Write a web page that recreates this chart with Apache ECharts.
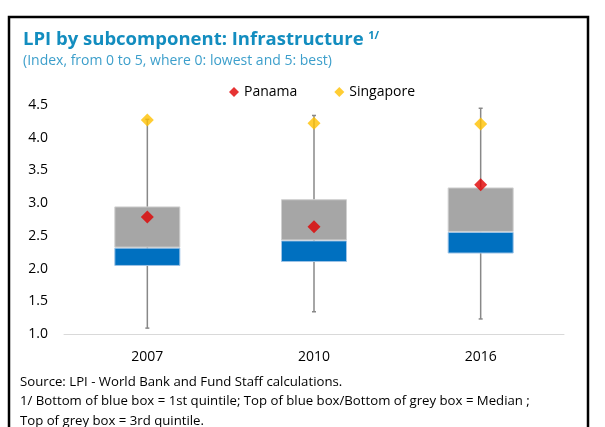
<!DOCTYPE html>
<html lang="en">
<head>
    <meta charset="UTF-8">
    <title>LPI Infrastructure</title>
    <script src="https://cdn.jsdelivr.net/npm/echarts@6/dist/echarts.min.js"></script>
    <style type="text/css">
        *{ margin: 0; padding: 0; }
        #chart{ width: 605px; height: 427px; }
    </style>
</head>
<body>
    <div id="chart"></div>
</body>
<script>
    var years = ['2007', '2010', '2016'];
    var lowWhisker = [1.09, 1.34, 1.23];
    var highWhisker = [4.28, 4.34, 4.45];
    var quintile1 = [2.04, 2.10, 2.23];
    var median = [2.32, 2.43, 2.56];
    var quintile3 = [2.95, 3.06, 3.24];
    var panama = [2.79, 2.64, 3.28];
    var singapore = [4.27, 4.22, 4.21];

    var font = 'Open Sans';
    var myChart = echarts.init(document.getElementById('chart'));

    // stacked pieces of the box: invisible base up to q1, blue to median, grey to q3
    var blueSeg = [], greySeg = [];
    for (var i = 0; i < years.length; i++) {
        blueSeg.push(+(median[i] - quintile1[i]).toFixed(3));
        greySeg.push(+(quintile3[i] - median[i]).toFixed(3));
    }
    var whiskers = [];
    for (var j = 0; j < years.length; j++) {
        whiskers.push([j, lowWhisker[j], highWhisker[j]]);
    }

    var option = {
        animation: false,
        textStyle: { fontFamily: font },
        title: {
            left: 18,
            top: 25,
            text: '{t|LPI by subcomponent: Infrastructure} {s|1/}',
            subtext: '(Index, from 0 to 5, where 0: lowest and 5: best)',
            itemGap: 5,
            textStyle: {
                rich: {
                    t: { fontFamily: font, fontSize: 18.5, fontWeight: 'bold', color: '#138DBF' },
                    s: { fontFamily: font, fontSize: 11, fontWeight: 'bold', color: '#138DBF', verticalAlign: 'top', padding: [0, 0, 8, 0] }
                }
            },
            subtextStyle: { fontFamily: font, fontSize: 14, color: '#3D9FCB' }
        },
        legend: {
            top: 80,
            left: 224,
            itemGap: 37,
            itemWidth: 10,
            itemHeight: 10,
            textStyle: { fontFamily: font, fontSize: 14, color: '#000' },
            data: [
                { name: 'Panama', icon: 'diamond' },
                { name: 'Singapore', icon: 'diamond' }
            ]
        },
        grid: { left: 64, right: 41, top: 105, bottom: 93 },
        xAxis: {
            type: 'category',
            data: years,
            axisLine: { lineStyle: { color: '#D9D9D9' } },
            axisTick: { show: false },
            axisLabel: { color: '#000', fontSize: 14, margin: 16 }
        },
        yAxis: {
            type: 'value',
            min: 1,
            max: 4.5,
            interval: 0.5,
            splitLine: { show: false },
            axisLine: { show: false },
            axisTick: { show: false },
            axisLabel: {
                color: '#000', fontSize: 14, margin: 16,
                formatter: function (v) { return v.toFixed(1); }
            }
        },
        series: [
            {
                name: 'whisker',
                type: 'custom',
                z: 1,
                data: whiskers,
                renderItem: function (params, api) {
                    var lo = api.coord([api.value(0), api.value(1)]);
                    var hi = api.coord([api.value(0), api.value(2)]);
                    var st = { stroke: '#888888', lineWidth: 1.5 };
                    return {
                        type: 'group',
                        children: [
                            { type: 'line', shape: { x1: lo[0], y1: lo[1], x2: hi[0], y2: hi[1] }, style: st },
                            { type: 'line', shape: { x1: lo[0] - 2, y1: lo[1], x2: lo[0] + 2, y2: lo[1] }, style: st },
                            { type: 'line', shape: { x1: hi[0] - 2, y1: hi[1], x2: hi[0] + 2, y2: hi[1] }, style: st }
                        ]
                    };
                }
            },
            {
                name: 'base',
                type: 'bar',
                stack: 'box',
                barWidth: 66,
                z: 2,
                itemStyle: { color: 'transparent' },
                data: quintile1
            },
            {
                name: 'blue',
                type: 'bar',
                stack: 'box',
                z: 2,
                itemStyle: { color: '#0070C0', borderColor: '#9DC3E6', borderWidth: 1 },
                data: blueSeg
            },
            {
                name: 'grey',
                type: 'bar',
                stack: 'box',
                z: 2,
                itemStyle: { color: '#A6A6A6', borderColor: '#D0D0D0', borderWidth: 1 },
                data: greySeg
            },
            {
                name: 'Panama',
                type: 'scatter',
                z: 5,
                symbol: 'diamond',
                symbolSize: 13,
                itemStyle: { color: '#E00000' },
                data: panama
            },
            {
                name: 'Singapore',
                type: 'scatter',
                z: 5,
                symbol: 'diamond',
                symbolSize: 13,
                itemStyle: { color: '#FFC000' },
                data: singapore
            }
        ],
        graphic: [
            {
                type: 'rect',
                z: 0,
                shape: { x: 9, y: 17, width: 579, height: 420 },
                style: { fill: 'none', stroke: '#000', lineWidth: 2.5 }
            },
            {
                type: 'text',
                left: 20,
                top: 372,
                style: {
                    text: 'Source: LPI - World Bank and Fund Staff calculations.\n1/ Bottom of blue box = 1st quintile; Top of blue box/Bottom of grey box = Median ;\nTop of grey box = 3rd quintile.',
                    font: '13.2px "Open Sans"',
                    lineHeight: 19.5,
                    fill: '#000'
                }
            }
        ]
    };

    myChart.setOption(option);
</script>
</html>
